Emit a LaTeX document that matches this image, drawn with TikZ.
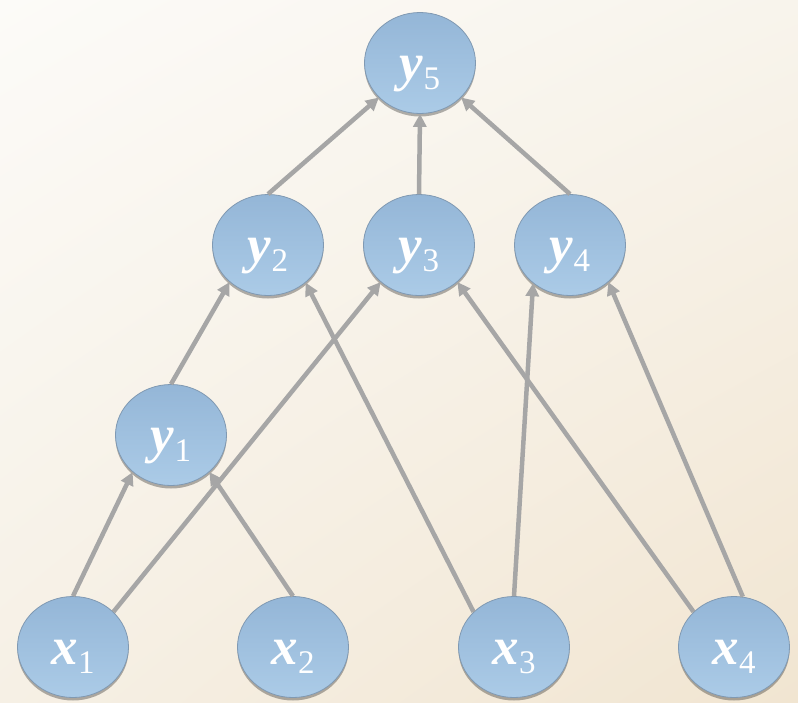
\documentclass[tikz,border=0pt]{standalone}
\usepackage{fontspec}
\setmainfont{Liberation Serif}
\usetikzlibrary{arrows.meta,shapes.geometric,shadows,shadings}
\definecolor{nodetop}{HTML}{94B6D7}
\definecolor{nodebot}{HTML}{ABCBE7}
\definecolor{noderim}{HTML}{8099B2}
\definecolor{edgegray}{HTML}{A6A6A6}
\definecolor{bgul}{HTML}{FCFBF8}
\definecolor{bgur}{HTML}{F8F4EC}
\definecolor{bgll}{HTML}{F6F0E5}
\definecolor{bglr}{HTML}{F1E5D1}
\newcommand\vlab[2]{{\fontsize{53}{53}\selectfont\bfseries\itshape #1}\raisebox{-9pt}{\fontsize{33}{33}\selectfont #2}}
\begin{document}
\begin{tikzpicture}[x=1pt,y=-1pt,
  vnode/.style={ellipse, minimum width=111pt, minimum height=101pt, inner sep=0pt,
    top color=nodetop, bottom color=nodebot, draw=noderim, line width=0.8pt,
    drop shadow={shadow xshift=0pt, shadow yshift=-3pt, opacity=0.3, fill=black},
    text=white, text height=35pt, text depth=0pt},
  edge/.style={draw=edgegray, line width=4.5pt, -{Triangle[length=13pt,width=13pt]}}
]
\useasboundingbox (0,0) rectangle (798,702);
\shade[upper left=bgul, upper right=bgur, lower left=bgll, lower right=bglr] (0,0) rectangle (798,702);

\node[vnode] (y5) at (420,63) {\vlab{y}{5}};
\node[vnode] (y2) at (268,245) {\vlab{y}{2}};
\node[vnode] (y3) at (419,245) {\vlab{y}{3}};
\node[vnode] (y4) at (570,245) {\vlab{y}{4}};
\node[vnode] (y1) at (171,435) {\vlab{y}{1}};
\node[vnode] (x1) at (73,647) {\vlab{x}{1}};
\node[vnode] (x2) at (293,647) {\vlab{x}{2}};
\node[vnode] (x3) at (514,647) {\vlab{x}{3}};
\node[vnode] (x4) at (734,647) {\vlab{x}{4}};

\draw[edge] (x1.90) -- (y1.224);
\draw[edge] (x1.41) -- (y3.224);
\draw[edge] (x2.90) -- (y1.316);
\draw[edge] (x3.139) -- (y2.315);
\draw[edge] (x3.90) -- (y4.226);
\draw[edge] (x4.139) -- (y3.316);
\draw[edge] (x4.80) -- (y4.316);
\draw[edge] (y1.90) -- (y2.224);
\draw[edge] (y2.90) -- (y5.220);
\draw[edge] (y3.90) -- (y5.270);
\draw[edge] (y4.90) -- (y5.320);
\end{tikzpicture}
\end{document}
